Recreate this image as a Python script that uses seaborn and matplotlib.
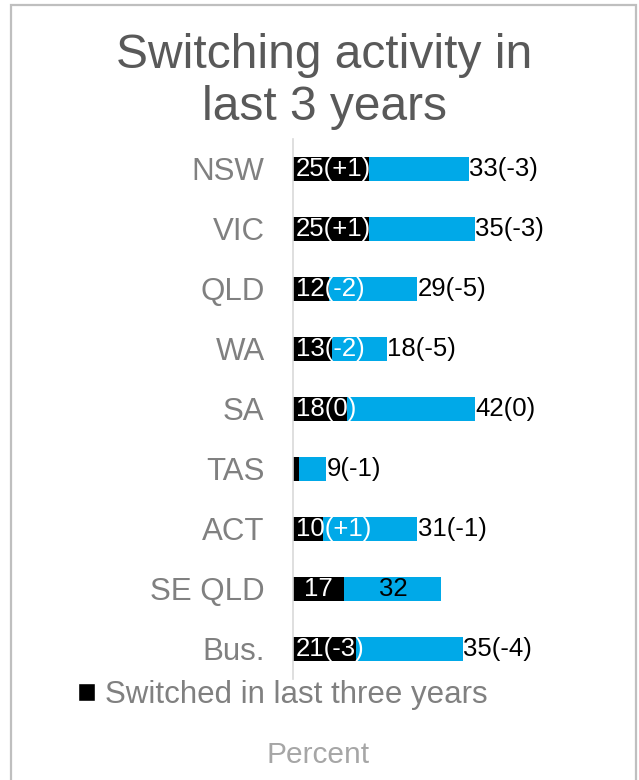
import matplotlib
matplotlib.use("Agg")
import matplotlib.pyplot as plt
from matplotlib.patches import Rectangle, Patch
import seaborn as sns
import pandas as pd

# Survey results by region
regions = ["NSW", "VIC", "QLD", "WA", "SA", "TAS", "ACT", "SE QLD", "Bus."]
switched = [25, 25, 12, 13, 18, 2, 10, 17, 21]
considered = [33, 35, 29, 18, 42, 9, 31, 32, 35]
switched_labels = ["25(+1)", "25(+1)", "12(-2)", "13(-2)", "18(0)", "", "10(+1)", "17", "21(-3)"]
considered_labels = ["33(-3)", "35(-3)", "29(-5)", "18(-5)", "42(0)", "9(-1)", "31(-1)", "32", "35(-4)"]

df = pd.DataFrame({
    "region": regions,
    "switched": switched,
    "considered": considered,
})
df["total"] = df["switched"] + df["considered"]

BLUE = "#00A9E8"
sns.set_style("white")
plt.rcParams["font.family"] = ["Liberation Sans", "DejaVu Sans"]

W, H = 639, 780
fig = plt.figure(figsize=(W / 100, H / 100), dpi=100)

# axes placed in pixel terms
left_px, right_px, top_px, bottom_px = 292.5, 620, 138.7, 678.7
ax = fig.add_axes([left_px / W, 1 - bottom_px / H,
                   (right_px - left_px) / W, (bottom_px - top_px) / H])

sns.barplot(data=df, x="total", y="region", color=BLUE, width=0.4,
            saturation=1, linewidth=0, ax=ax, orient="h")
sns.barplot(data=df, x="switched", y="region", color="black", width=0.4,
            saturation=1, linewidth=0, ax=ax, orient="h")

ax.set_xlim(0, (right_px - left_px) / 3.04)
ax.set_ylim(len(regions) - 0.5, -0.5)
ax.set_xlabel("")
ax.set_ylabel("")
ax.set_xticks([])
for s in ["top", "right", "bottom"]:
    ax.spines[s].set_visible(False)
ax.spines["left"].set_color("#d9d9d9")
ax.spines["left"].set_linewidth(1.2)
ax.tick_params(axis="y", length=0, pad=20, labelsize=22.5, labelcolor="#808080")

LABEL_SIZE = 18.5
px = 72 / 100  # points per pixel
for i, (s, c, sl, cl) in enumerate(zip(switched, considered,
                                       switched_labels, considered_labels)):
    if "(" in cl:
        if sl:
            ax.annotate(sl, (0, i), xytext=(3 * px, 0), textcoords="offset points",
                        ha="left", va="center", color="white", fontsize=LABEL_SIZE)
        ax.annotate(cl, (s + c, i), xytext=(0.5 * px, 0), textcoords="offset points",
                    ha="left", va="center", color="black", fontsize=LABEL_SIZE)
    else:
        ax.text(s / 2, i, sl, ha="center", va="center", color="white", fontsize=LABEL_SIZE)
        ax.text(s + c / 2, i, cl, ha="center", va="center", color="black", fontsize=LABEL_SIZE)

# title
fig.text(324 / W, 1 - 82 / H, "Switching activity in\nlast 3 years",
         ha="center", va="center", fontsize=34.5, color="#595959", linespacing=1.2)

# legend
fig.legend(handles=[Patch(facecolor="black", label="Switched in last three years")],
           loc="center left", bbox_to_anchor=(78 / W, 1 - 695 / H),
           frameon=False, fontsize=22.5, labelcolor="#808080",
           handlelength=0.55, handleheight=0.55, handletextpad=0.3,
           borderpad=0, borderaxespad=0)

# axis title
fig.text(318 / W, 1 - 755 / H, "Percent", ha="center", va="center",
         fontsize=21.5, color="#a6a6a6")

# chart border
fig.patches.append(Rectangle((11 / W, -0.05), (636 - 11) / W, 1.05 - 4.5 / H,
                             transform=fig.transFigure, fill=False,
                             edgecolor="#bfbfbf", linewidth=1.6))

fig.savefig("out.png", dpi=100)
